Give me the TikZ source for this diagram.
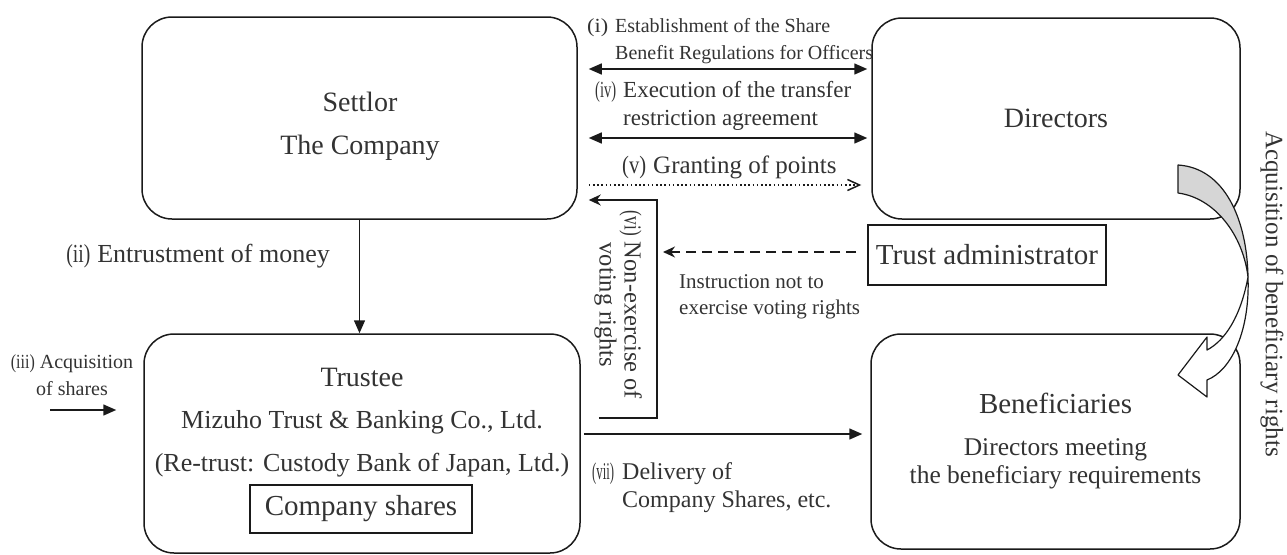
\documentclass[tikz,border=0pt]{standalone}
\usepackage{fontspec}
\setmainfont{Liberation Serif}
\usepackage{graphicx}
\usepackage{tikz}
\usetikzlibrary{positioning,arrows.meta,calc}
\definecolor{ink}   {HTML}{1A1A1A}
\definecolor{txt}   {HTML}{333333}
\definecolor{ribbon}{HTML}{D6D6D6}
% step number, squeezed into a fixed width
\newcommand{\rn}[3][28pt]{\makebox[#1][l]{\resizebox{#2}{\height}{(#3)}}}
\tikzset{
  % --- nodes
  box/.style   = {draw=ink, rounded corners=30pt, line width=1.5pt, align=center,
                  text=txt, inner sep=0pt, font=\fontsize{28}{32}\selectfont},
  boxtxt/.style= {text=txt, align=center, inner sep=0pt},
  sq/.style    = {draw=ink, line width=1.8pt, text=txt, inner sep=0pt,
                  font=\fontsize{29}{32}\selectfont},
  lbl/.style   = {text=txt, inner sep=0pt, align=left},
  % --- edges
  e/.style     = {-{Triangle[length=13pt,width=11pt]}, line width=1.5pt, draw=ink},
  dbl/.style   = {e, {Triangle[length=13pt,width=11pt]}-{Triangle[length=13pt,width=11pt]}},
  stl/.style   = {-{Stealth[length=12pt,width=11pt]}, line width=1.5pt, draw=ink},
  dsh/.style   = {stl, dash pattern=on 10pt off 6pt},
  dotarrow/.style = {-{Straight Barb[length=12pt,width=11pt]}, line width=1.5pt, draw=ink,
                  dash pattern=on 1.6pt off 2.6pt},
  band/.style  = {draw=ink, line width=1.2pt, line join=round},
}

\begin{document}
\begin{tikzpicture}[x=1pt,y=-1pt]
  \useasboundingbox (0,0) rectangle (1287,554);

  % boxes
  \node[box, minimum width=435pt, minimum height=202pt] (settlor) at (359.5,118) {};
  \node[boxtxt, font=\fontsize{28}{43}\selectfont] (settlortxt) at (360,126)
    {Settlor\\The Company};
  \node[box, minimum width=368pt, minimum height=201pt] (directors) at (1056,118.5) {Directors};
  \node[sq, minimum width=238pt, minimum height=60pt] (admin) at (987,255) {Trust administrator};
  \node[box, minimum width=436pt, minimum height=219pt] (trustee) at (362,443.5) {};
  \node[boxtxt, font=\fontsize{26}{42.5}\selectfont] (trusteetxt) at (362,422.5)
    {{\fontsize{28}{42.5}\selectfont Trustee}\\Mizuho Trust \& Banking Co., Ltd.\\
     (Re-trust: Custody Bank of Japan, Ltd.)};
  \node[sq, minimum width=222pt, minimum height=48pt] (shares) at (361,509) {Company shares};
  \node[box, minimum width=369pt, minimum height=215pt, font=\fontsize{25.5}{28}\selectfont]
    (benef) at (1055.5,441.5)
    {{\fontsize{29}{28}\selectfont Beneficiaries}\\[14pt]Directors meeting\\the beneficiary requirements};

  % labels
  \node[lbl, anchor=west, font=\fontsize{20}{27}\selectfont] (li) at (587,41)
    {\rn{21pt}{i}Establishment of the Share\\\hspace*{28pt}Benefit Regulations for Officers};
  \node[lbl, anchor=west, font=\fontsize{23}{28}\selectfont] (liv) at (595,106)
    {\rn{21pt}{iv}Execution of the transfer\\\hspace*{28pt}restriction agreement};
  \node[lbl, anchor=west, font=\fontsize{25}{28}\selectfont] (lv) at (622,167)
    {\rn[31pt]{24pt}{v}Granting of points};
  \node[lbl, anchor=west, font=\fontsize{21}{26}\selectfont] (lins) at (679,297)
    {Instruction not to\\exercise voting rights};
  \node[lbl, align=center, rotate=-90, font=\fontsize{24.5}{25}\selectfont] (lvi) at (618,305)
    {\rn[31pt]{25pt}{vi}Non-exercise of\\voting rights};
  \node[lbl, anchor=west, font=\fontsize{24}{28}\selectfont] (lvii) at (592,488)
    {\rn[30pt]{22pt}{vii}Delivery of\\\hspace*{30pt}Company Shares, etc.};
  \node[lbl, anchor=east, font=\fontsize{26}{28}\selectfont] (lii) at (330,256)
    {\rn[31pt]{24pt}{ii}Entrustment of money};
  \node[lbl, align=center, font=\fontsize{20}{27}\selectfont] (liii) at (72,375.5)
    {\rn[29pt]{24pt}{iii}Acquisition\\of shares};
  \node[lbl, rotate=-90, font=\fontsize{25}{28}\selectfont] (lacq) at (1272,294)
    {Acquisition of beneficiary rights};

  % rows and columns of the connectors
  \coordinate (r1) at (0,69);
  \coordinate (r4) at (0,138);
  \coordinate (r5) at (0,185);
  \coordinate (r6) at (0,200);
  \coordinate (r7) at (0,418);
  \coordinate (r8) at (0,434);
  \coordinate (vicol) at (657,0);
  \coordinate (iiia) at (50,410);

  % connectors
  \draw[dbl, shorten <=11pt, shorten >=4pt] (settlor.east |- r1) -- (directors.west |- r1);
  \draw[dbl, shorten <=11pt, shorten >=4pt] (settlor.east |- r4) -- (directors.west |- r4);
  \draw[dotarrow, shorten <=11pt, shorten >=10pt] (settlor.east |- r5) -- (directors.west |- r5);
  \draw[stl, shorten <=18pt, shorten >=11pt] (trustee.east |- r7) -- (vicol |- r7)
    -- (vicol |- r6) -- (settlor.east |- r6);
  \draw[dsh, shorten <=11pt, shorten >=6pt] ([yshift=3pt]admin.west) -- ([yshift=3pt]vicol |- admin.west);
  \draw[e] (settlor.south) -- (settlor.south |- trustee.north);
  \draw[e, shorten >=27pt] (iiia) -- (trustee.west |- iiia);
  \draw[e, shorten <=3pt, shorten >=8pt] (trustee.east |- r8) -- (benef.west |- r8);

  % ribbon arrow
  \filldraw[band, fill=ribbon] (1178,165) .. controls (1225,168) and (1247,220) .. (1248,277)
    .. controls (1243,235) and (1215,198) .. (1178,193) -- cycle;
  \filldraw[band, fill=white] (1248,277) .. controls (1241,315) and (1226,340) .. (1207,350)
    -- (1207,337) -- (1178,375) -- (1207,397) -- (1207,380)
    .. controls (1232,370) and (1250,330) .. (1248,277) -- cycle;
\end{tikzpicture}
\end{document}
